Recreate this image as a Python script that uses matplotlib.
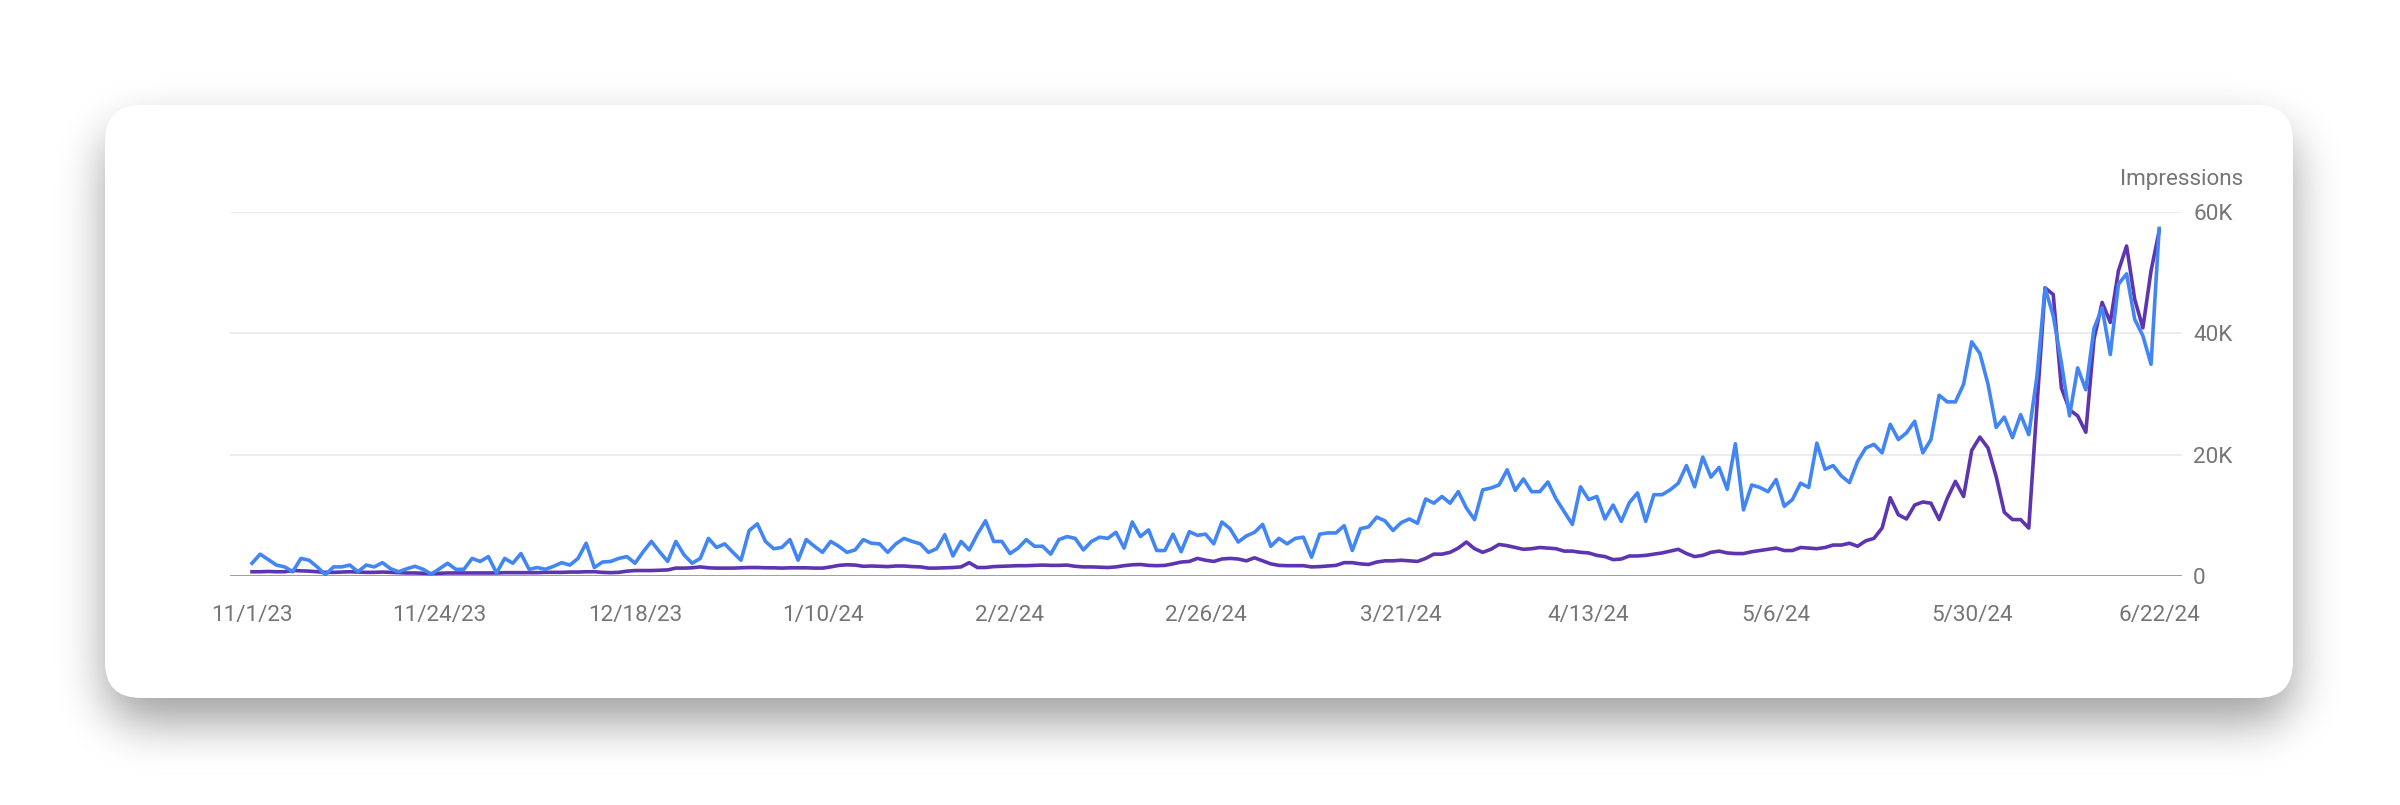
import numpy as np
import pandas as pd
import matplotlib
matplotlib.use('Agg')
import matplotlib.pyplot as plt
from matplotlib.patches import FancyBboxPatch

plt.rcParams['font.family'] = ['Roboto', 'DejaVu Sans']

# daily values, thousands of impressions, 11/1/23 .. 6/22/24
dates = pd.date_range('2023-11-01', '2024-06-22', freq='D')

blue = [
    2.1, 3.6, 2.7, 1.8, 1.5, 0.7, 2.9, 2.6, 1.5, 0.2,
    1.5, 1.5, 1.8, 0.7, 1.8, 1.5, 2.2, 1.2, 0.7, 1.2,
    1.6, 1.1, 0.3, 1.2, 2.1, 1.1, 1.1, 2.9, 2.4, 3.2,
    0.5, 2.9, 2.1, 3.7, 1.1, 1.4, 1.1, 1.6, 2.2, 1.8,
    2.9, 5.4, 1.4, 2.3, 2.4, 2.9, 3.2, 2.1, 4.0, 5.7,
    4.0, 2.4, 5.7, 3.5, 2.1, 2.9, 6.2, 4.7, 5.3, 3.9,
    2.6, 7.5, 8.6, 5.7, 4.5, 4.7, 6.0, 2.6, 6.0, 4.9,
    3.9, 5.7, 4.9, 3.9, 4.3, 6.0, 5.4, 5.3, 3.9, 5.3,
    6.2, 5.7, 5.3, 3.9, 4.5, 6.8, 3.3, 5.7, 4.3, 6.9,
    9.1, 5.7, 5.7, 3.7, 4.6, 6.0, 4.9, 4.9, 3.6, 6.0,
    6.5, 6.2, 4.3, 5.7, 6.4, 6.2, 7.2, 4.6, 8.9, 6.5,
    7.6, 4.2, 4.2, 6.9, 4.0, 7.3, 6.7, 6.9, 5.3, 8.9,
    7.8, 5.6, 6.6, 7.2, 8.5, 4.9, 6.2, 5.3, 6.2, 6.4,
    3.1, 6.9, 7.1, 7.1, 8.3, 4.2, 7.8, 8.1, 9.7, 9.1,
    7.5, 8.8, 9.4, 8.7, 12.7, 12.0, 13.1, 12.0, 13.9, 11.2,
    9.3, 14.2, 14.5, 15.0, 17.5, 14.1, 16.0, 13.9, 13.9, 15.5,
    12.7, 10.6, 8.5, 14.7, 12.6, 13.1, 9.4, 11.7, 9.0, 12.1,
    13.7, 9.0, 13.4, 13.4, 14.2, 15.3, 18.2, 14.7, 19.6, 16.3,
    17.9, 14.3, 21.8, 10.9, 15.0, 14.6, 13.9, 15.9, 11.5, 12.6,
    15.3, 14.6, 21.9, 17.6, 18.2, 16.5, 15.4, 18.9, 21.1, 21.7,
    20.3, 25.0, 22.5, 23.6, 25.5, 20.3, 22.5, 29.8, 28.7, 28.7,
    31.6, 38.6, 36.7, 31.6, 24.5, 26.2, 22.8, 26.6, 23.3, 32.9,
    47.5, 42.9, 35.2, 26.4, 34.3, 30.7, 40.8, 44.2, 36.5, 48.1,
    49.8, 42.3, 39.6, 34.9, 57.3,
]

purple = [
    0.7, 0.7, 0.75, 0.7, 0.7, 0.9, 0.85, 0.8, 0.7, 0.6,
    0.6, 0.65, 0.7, 0.65, 0.6, 0.6, 0.65, 0.6, 0.55, 0.5,
    0.5, 0.45, 0.4, 0.45, 0.5, 0.5, 0.5, 0.5, 0.5, 0.5,
    0.5, 0.55, 0.55, 0.55, 0.55, 0.55, 0.6, 0.6, 0.6, 0.65,
    0.65, 0.7, 0.7, 0.6, 0.55, 0.6, 0.8, 0.9, 0.9, 0.9,
    0.95, 1.0, 1.3, 1.3, 1.35, 1.5, 1.35, 1.3, 1.3, 1.3,
    1.35, 1.4, 1.4, 1.35, 1.35, 1.3, 1.35, 1.35, 1.35, 1.3,
    1.3, 1.5, 1.75, 1.85, 1.8, 1.6, 1.65, 1.6, 1.55, 1.65,
    1.65, 1.55, 1.5, 1.3, 1.3, 1.35, 1.4, 1.5, 2.2, 1.4,
    1.4, 1.55, 1.6, 1.65, 1.7, 1.7, 1.75, 1.8, 1.75, 1.75,
    1.8, 1.6, 1.5, 1.5, 1.45, 1.4, 1.5, 1.7, 1.85, 1.9,
    1.75, 1.7, 1.75, 2.0, 2.3, 2.4, 2.9, 2.6, 2.4, 2.8,
    2.9, 2.8, 2.5, 3.0, 2.5, 2.0, 1.75, 1.7, 1.7, 1.7,
    1.5, 1.55, 1.65, 1.75, 2.2, 2.2, 2.0, 1.9, 2.3, 2.5,
    2.5, 2.6, 2.5, 2.4, 2.9, 3.6, 3.6, 3.9, 4.6, 5.6,
    4.5, 3.9, 4.4, 5.2, 5.0, 4.7, 4.4, 4.5, 4.7, 4.6,
    4.5, 4.1, 4.1, 3.9, 3.8, 3.4, 3.2, 2.7, 2.8, 3.3,
    3.3, 3.4, 3.6, 3.8, 4.1, 4.4, 3.7, 3.2, 3.4, 3.9,
    4.1, 3.8, 3.7, 3.7, 4.0, 4.2, 4.4, 4.6, 4.2, 4.2,
    4.7, 4.6, 4.5, 4.7, 5.1, 5.1, 5.4, 4.9, 5.8, 6.2,
    7.9, 12.9, 10.1, 9.4, 11.7, 12.2, 12.0, 9.3, 12.8, 15.6,
    13.1, 20.7, 22.9, 21.1, 16.4, 10.5, 9.3, 9.3, 7.9, 28.0,
    47.5, 46.4, 31.0, 27.4, 26.4, 23.7, 39.0, 45.1, 41.8, 50.3,
    54.4, 45.6, 40.9, 50.3, 56.9,
]

tick_dates = ['2023-11-01', '2023-11-24', '2023-12-18', '2024-01-10', '2024-02-02', '2024-02-26',
              '2024-03-21', '2024-04-13', '2024-05-06', '2024-05-30', '2024-06-22']
tick_labels = ['11/1/23', '11/24/23', '12/18/23', '1/10/24', '2/2/24', '2/26/24',
               '3/21/24', '4/13/24', '5/6/24', '5/30/24', '6/22/24']
y_ticks = [0, 20000, 40000, 60000]
y_labels = ['0', '20K', '40K', '60K']

W, H = 2400, 805
fig = plt.figure(figsize=(W / 100, H / 100), dpi=100, facecolor='white')

# card with soft drop shadow, drawn in pixel coords
bg = fig.add_axes([0, 0, 1, 1])
bg.set_xlim(0, W)
bg.set_ylim(H, 0)
bg.axis('off')

cx0, cy0, cx1, cy1, rad = 105, 105, 2293, 698, 36
yy, xx = np.mgrid[0:H, 0:W]
dy = 24
px = np.clip(xx, cx0 + rad, cx1 - rad)
py = np.clip(yy, cy0 + dy + rad, cy1 + dy - rad)
mask = (((xx - px) ** 2 + (yy - py) ** 2) <= rad * rad).astype(float)

sigma = 23
k = np.arange(-3 * sigma, 3 * sigma + 1)
g = np.exp(-k ** 2 / (2.0 * sigma ** 2))
g /= g.sum()
sh = np.apply_along_axis(lambda r: np.convolve(r, g, mode='same'), 1, mask)
sh = np.apply_along_axis(lambda c: np.convolve(c, g, mode='same'), 0, sh)

rgba = np.zeros((H, W, 4))
rgba[..., 3] = sh * 0.37
bg.imshow(rgba, extent=(0, W, H, 0), interpolation='bilinear', zorder=1)
bg.add_patch(FancyBboxPatch((cx0, cy0), cx1 - cx0, cy1 - cy0,
                            boxstyle=f'round,pad=0,rounding_size={rad}',
                            fc='white', ec='none', zorder=2))

# chart
ax = fig.add_axes([230 / W, 1 - 576 / H, 1952 / W, 364 / H])
ax.patch.set_alpha(0)

x = dates
ax.plot(x, np.array(purple) * 1000, color='#5E35B1', lw=2.6, solid_joinstyle='round', zorder=3)
ax.plot(x, np.array(blue) * 1000, color='#4285F4', lw=2.6, solid_joinstyle='round', zorder=4)

ax.set_ylim(0, 60000)
ax.set_xlim(dates[0] - pd.Timedelta(days=2.7), dates[-1] + pd.Timedelta(days=2.8))

ax.set_yticks(y_ticks)
ax.set_yticklabels(y_labels)
ax.yaxis.tick_right()
ax.set_xticks(pd.to_datetime(tick_dates))
ax.set_xticklabels(tick_labels)
ax.tick_params(axis='both', length=0, labelsize=16.2, labelcolor='#757575')
ax.tick_params(axis='y', pad=8)
ax.tick_params(axis='x', pad=21)

for s in ax.spines.values():
    s.set_visible(False)
ax.grid(axis='y', color='#ebebeb', lw=1.3)
ax.grid(axis='x', visible=False)
ax.axhline(0, color='#9a9a9a', lw=1.3, zorder=2)
ax.set_axisbelow(True)

fig.text(2243 / W, 1 - 179 / H, 'Impressions', ha='right', va='center',
         fontsize=16.2, color='#757575')

fig.savefig('out.png', dpi=100, facecolor='white')
